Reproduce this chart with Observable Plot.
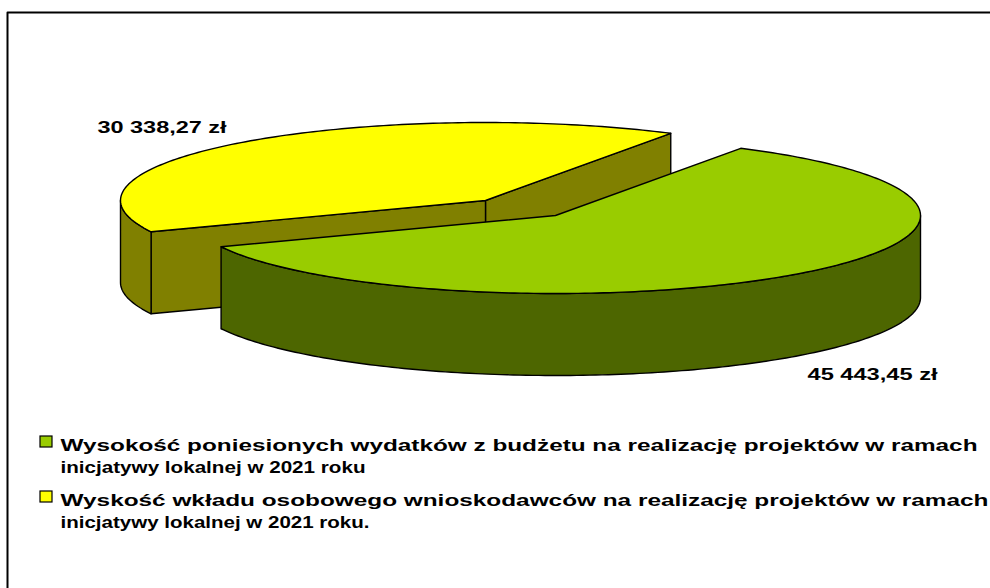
<!DOCTYPE html>
<html>
<head>
<meta charset="utf-8">
<script src="https://cdn.jsdelivr.net/npm/d3@7"></script>
<script src="https://cdn.jsdelivr.net/npm/@observablehq/plot@0.6"></script>
<style>html,body{margin:0;padding:0;background:#fff}svg{display:block}</style>
</head>
<body>
<div id="chart"></div>
<script>
const categories = [
  ["Wysokość poniesionych wydatków z budżetu na realizację projektów w ramach", "inicjatywy lokalnej w 2021 roku"],
  ["Wyskość wkładu osobowego wnioskodawców na realizację projektów w ramach", "inicjatywy lokalnej w 2021 roku."]
];
const values = [45443.45, 30338.27];
const valueLabels = ["45 443,45 zł", "30 338,27 zł"];

// Drawing layout, kept apart from the data
const topColors = ["#99CC00", "#FFFF00"];
const wallColors = ["#4D6600", "#808000"];
const rx = 365, ry = 78, depth = 82, startDeg = 30.5;
const centers = [[555, 215], [485, 200]];

const total = d3.sum(values);
const greenEnd = startDeg + 360 * values[0] / total;
const yellowEnd = startDeg + 360;
const rad = d => d * Math.PI / 180;
const at = (c, deg, d = 0) => ({x: c[0] + rx * Math.sin(rad(deg)), y: c[1] - ry * Math.cos(rad(deg)) + d});
const arc = (c, a, b, d = 0) => {
  const out = [];
  const n = Math.max(2, Math.ceil(Math.abs(b - a)));
  for (let i = 0; i <= n; i++) out.push(at(c, a + (b - a) * i / n, d));
  return out;
};
const pt = (c, d = 0) => ({x: c[0], y: c[1] + d});
const G = centers[0], Y = centers[1];

const shapes = [
  {fill: wallColors[1], pts: [pt(Y), at(Y, yellowEnd), at(Y, yellowEnd, depth), pt(Y, depth)]},
  {fill: wallColors[1], pts: [pt(Y), at(Y, greenEnd), at(Y, greenEnd, depth), pt(Y, depth)]},
  {fill: wallColors[1], pts: [...arc(Y, greenEnd, 270), ...arc(Y, 270, greenEnd, depth)]},
  {fill: topColors[1], pts: [pt(Y), ...arc(Y, greenEnd, yellowEnd)]},
  {fill: wallColors[0], pts: [...arc(G, 90, greenEnd), ...arc(G, greenEnd, 90, depth)]},
  {fill: topColors[0], pts: [pt(G), ...arc(G, startDeg, greenEnd)]}
];

const legendRows = [
  {text: categories[0][0], x: 60, y: 450, len: 917},
  {text: categories[0][1], x: 60, y: 472, len: 305},
  {text: categories[1][0], x: 60, y: 505, len: 928},
  {text: categories[1][1], x: 60, y: 527, len: 309}
];
const valueRows = [
  {text: valueLabels[0], x: 807, y: 379, len: 130},
  {text: valueLabels[1], x: 97, y: 132, len: 129}
];
const swatches = [
  {x1: 40, x2: 52, y1: 436, y2: 447, fill: topColors[0]},
  {x1: 40, x2: 52, y1: 491, y2: 502, fill: topColors[1]}
];

const plot = Plot.plot({
  width: 990, height: 588, margin: 0,
  x: {domain: [0, 990], range: [0, 990], axis: null},
  y: {domain: [0, 588], range: [0, 588], axis: null},
  style: {background: "#fff"},
  marks: [
    Plot.line([{x: 7, y: 588}, {x: 7, y: 12}, {x: 990, y: 12}], {x: "x", y: "y", stroke: "#000", strokeWidth: 2}),
    ...shapes.map(s => Plot.line(s.pts, {x: "x", y: "y", fill: s.fill, stroke: "#000", strokeWidth: 1.4, curve: "linear-closed", strokeLinejoin: "round"})),
    ...swatches.map(s => Plot.rect([s], {x1: "x1", x2: "x2", y1: "y1", y2: "y2", fill: s.fill, stroke: "#000", strokeWidth: 1.2})),
    Plot.text(legendRows, {x: "x", y: "y", text: "text", textAnchor: "start", lineAnchor: "bottom", fontFamily: "Liberation Sans", fontWeight: "bold", fontSize: 17, fill: "#000", className: "stretch"}),
    Plot.text(valueRows, {x: "x", y: "y", text: "text", textAnchor: "start", lineAnchor: "bottom", fontFamily: "Liberation Sans", fontWeight: "bold", fontSize: 17, fill: "#000", className: "stretch2"})
  ]
});
document.getElementById("chart").append(plot);
const stretch = (cls, rows) => {
  plot.querySelectorAll("g." + cls + " text").forEach((t, i) => {
    t.setAttribute("textLength", rows[i].len);
    t.setAttribute("lengthAdjust", "spacingAndGlyphs");
    t.setAttribute("dy", "0");
  });
};
stretch("stretch", legendRows);
stretch("stretch2", valueRows);
</script>
</body>
</html>
